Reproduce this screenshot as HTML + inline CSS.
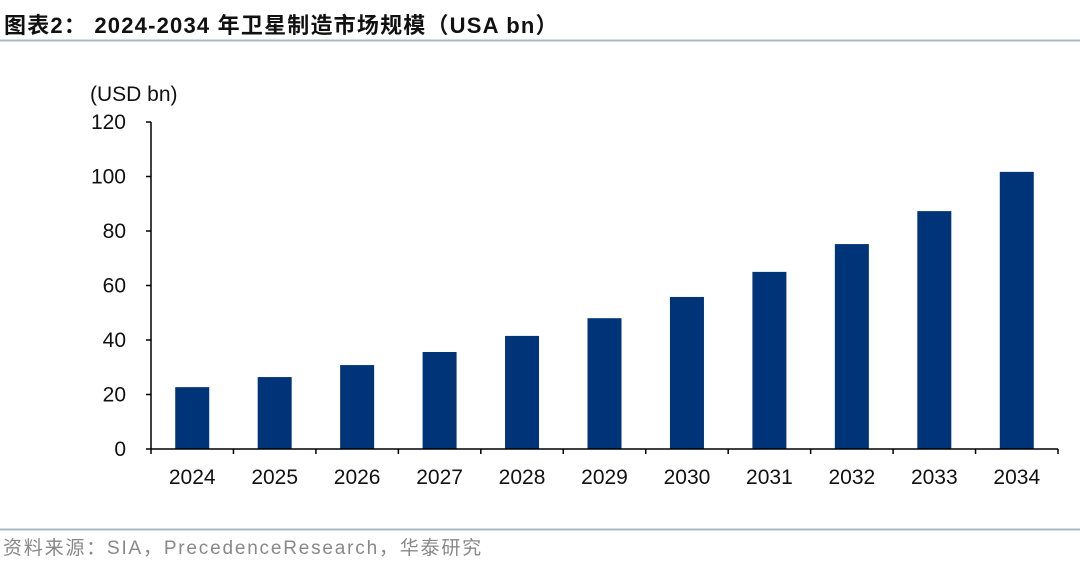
<!DOCTYPE html>
<html><head><meta charset="utf-8"><style>
body{margin:0;background:#fff;width:1080px;height:560px;overflow:hidden;font-family:"Liberation Sans","Noto Sans CJK SC",sans-serif}
</style></head><body>
<svg width="1080" height="560">
<text x="4" y="33" font-size="22" font-weight="bold" letter-spacing="1.2" fill="#111" font-family="Liberation Sans, Noto Sans CJK SC, sans-serif">图表2： 2024-2034 年卫星制造市场规模（USA bn）</text>
<line x1="0" y1="40.5" x2="1080" y2="40.5" stroke="#a9b8c8" stroke-width="2"/>
<text x="90" y="101" font-size="21" fill="#111">(USD bn)</text>
<g id="plot"></g>
<line x1="0" y1="529.5" x2="1080" y2="529.5" stroke="#a9b8c8" stroke-width="2"/>
<text x="3" y="554" font-size="19" letter-spacing="1.8" fill="#888" font-family="Liberation Sans, Noto Sans CJK SC, sans-serif">资料来源：SIA，PrecedenceResearch，华泰研究</text>
</svg>
<script>
const categories=["2024","2025","2026","2027","2028","2029","2030","2031","2032","2033","2034"];
const values=[22.7,26.4,30.8,35.6,41.5,48,55.8,65,75.2,87.3,101.7];
const yTicks=[0,20,40,60,80,100,120];
const NS="http://www.w3.org/2000/svg";
const g=document.getElementById('plot');
const x0=151,x1=1058,y0=449,yTop=122,yMax=120;
const step=(x1-x0)/categories.length;
const yS=v=>y0-(v/yMax)*(y0-yTop);
const xC=i=>x0+step*(i+0.5);
function mk(t,a){const e=document.createElementNS(NS,t);for(const k in a)e.setAttribute(k,a[k]);g.appendChild(e);return e;}
values.forEach((v,i)=>{
 const r=mk('rect',{x:xC(i)-17,y:yS(v),width:34,height:y0-yS(v),fill:'#003478'});
 
 
});
const ya=mk('line',{x1:x0,y1:yTop,x2:x0,y2:y0,stroke:'#000','stroke-width':1.5});


const xa=mk('line',{x1:x0,y1:y0,x2:x1,y2:y0,stroke:'#000','stroke-width':1.5});


yTicks.forEach(t=>{
 mk('line',{x1:x0-5,y1:yS(t),x2:x0,y2:yS(t),stroke:'#000','stroke-width':1.5});
 const tx=mk('text',{x:x0-25,y:yS(t)+7,'text-anchor':'end','font-size':21,fill:'#111'});
 tx.textContent=t;
 
 
});
for(let i=0;i<=categories.length;i++){
 mk('line',{x1:x0+step*i,y1:y0,x2:x0+step*i,y2:y0+5,stroke:'#000','stroke-width':1.5});
}
categories.forEach((c,i)=>{
 const tx=mk('text',{x:xC(i),y:484,'text-anchor':'middle','font-size':21,fill:'#111'});
 tx.textContent=c;
 
 
});
</script>
</body></html>
